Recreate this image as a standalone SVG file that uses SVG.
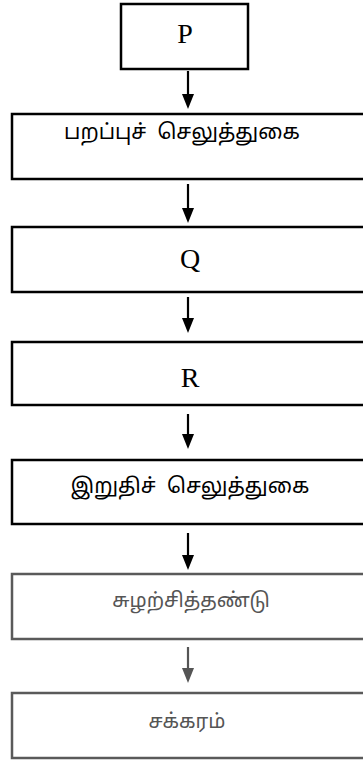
<svg xmlns="http://www.w3.org/2000/svg" width="363" height="760" viewBox="0 0 363 760">
<style>
.box{fill:#fff;stroke:#000;stroke-width:2.5}
.gbox{fill:#fff;stroke:#5a5a5a;stroke-width:2.5}
.lat{font-family:"Liberation Serif","Times New Roman",serif;font-size:28px;fill:#000;text-anchor:middle}
.ta{font-family:"Noto Sans","Noto Sans Tamil","Lohit Tamil",sans-serif;font-size:21px;fill:#000;text-anchor:middle;white-space:pre}
.tg{font-family:"Noto Sans","Noto Sans Tamil","Lohit Tamil",sans-serif;font-size:20px;fill:#555;text-anchor:middle}
.ln{stroke:#000;stroke-width:2.2}
.gln{stroke:#555;stroke-width:2.2}
</style>
<rect width="363" height="760" fill="#fff"/>
<g id="connectors">
<line class="ln" x1="188" y1="71" x2="188" y2="94"/><path d="M182,94 L194,94 L188,109 Z"/>
<line class="ln" x1="188" y1="184" x2="188" y2="208"/><path d="M182,208 L194,208 L188,223 Z"/>
<line class="ln" x1="188" y1="297" x2="188" y2="318"/><path d="M182,318 L194,318 L188,333 Z"/>
<line class="ln" x1="188" y1="414" x2="188" y2="434"/><path d="M182,434 L194,434 L188,449 Z"/>
<line class="ln" x1="188" y1="533" x2="188" y2="555"/><path d="M182,555 L194,555 L188,570 Z"/>
<line class="gln" x1="188" y1="647" x2="188" y2="668"/><path d="M182,668 L194,668 L188,683 Z" fill="#555"/>
</g>
<g id="n1"><rect class="box" x="121" y="4" width="127" height="65"/><text class="lat" x="185" y="43">P</text></g>
<g id="n2"><rect class="box" x="12" y="114" width="360" height="65"/><text class="ta" x="182" y="139" xml:space="preserve">பறப்புச்  செலுத்துகை</text></g>
<g id="n3"><rect class="box" x="12" y="227" width="360" height="65"/><text class="lat" x="190" y="268">Q</text></g>
<g id="n4"><rect class="box" x="12" y="342" width="360" height="63"/><text class="lat" x="190" y="387">R</text></g>
<g id="n5"><rect class="box" x="12" y="460" width="360" height="64"/><text class="ta" x="190" y="493" xml:space="preserve">இறுதிச்  செலுத்துகை</text></g>
<g id="n6"><rect class="gbox" x="12" y="574" width="360" height="65"/><text class="tg" x="191" y="607">சுழற்சித்தண்டு</text></g>
<g id="n7"><rect class="gbox" x="12" y="693" width="360" height="65"/><text class="tg" x="187" y="728">சக்கரம்</text></g>
</svg>
